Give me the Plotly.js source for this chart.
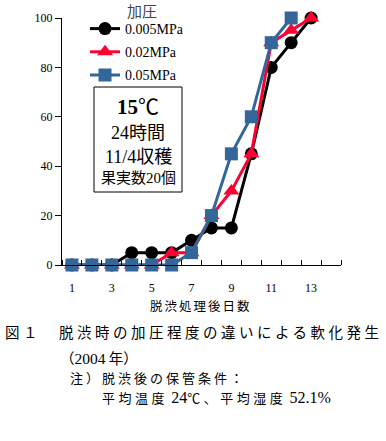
<!DOCTYPE html>
<html>
<head>
<meta charset="utf-8">
<script src="https://cdn.plot.ly/plotly-3.0.1.min.js"></script>
<style>html,body{margin:0;padding:0;background:#fff;}</style>
</head>
<body>
<div id="chart" style="width:386px;height:441px;"></div>
<script>
// ---- data ----
const days = [1,2,3,4,5,6,7,8,9,10,11,12,13];
const seriesNames = ['0.005MPa','0.02MPa','0.05MPa'];
const p005 = [0,0,0,5,5,5,10,15,15,45,80,90,100];
const p002 = [0,0,0,0,0,5,5,20,30,45,90,95,100];
const p005b = [0,0,0,0,0,0,5,20,45,60,90,100];
const daysBlue = [1,2,3,4,5,6,7,8,9,10,11,12];
const xTickVals = [1,3,5,7,9,11,13];
const xTickText = ['1','3','5','7','9','11','13'];
const yTickVals = [0,20,40,60,80,100];

const SERIF = "'Liberation Serif', 'Noto Sans CJK JP', serif";
const CJK = "'Liberation Serif', 'Noto Sans CJK JP', sans-serif";
const JP = "'Noto Sans CJK JP', sans-serif";

// plot area in pixels
const L = 62, R = 341, T = 18, B = 265;
const W = 386, H = 441;
function px(x){ return (x - L) / (R - L); }
function py(y){ return (B - y) / (B - T); }

const traces = [
  {x: days, y: p005, name: seriesNames[0], legendgroup: 'a', mode: 'lines+markers', cliponaxis: false,
   line: {color: '#000000', width: 3}, marker: {symbol: 'circle', size: 13, color: '#000000'}},
  {x: days, y: p002, name: seriesNames[1], legendgroup: 'b', mode: 'lines+markers', cliponaxis: false,
   line: {color: '#FF0033', width: 3}, marker: {symbol: 'triangle-up', size: 14, color: '#FF0033'}},
  {x: daysBlue, y: p005b, name: seriesNames[2], legendgroup: 'c', mode: 'lines+markers', cliponaxis: false,
   line: {color: '#336699', width: 3}, marker: {symbol: 'square', size: 13, color: '#336699'}}
];

function ann(text, xpix, ypix, size, anchor, extra){
  return Object.assign({
    text: text, xref: 'paper', yref: 'paper', x: px(xpix), y: py(ypix),
    xanchor: anchor || 'left', yanchor: 'middle', showarrow: false,
    font: {family: CJK, size: size, color: '#000'}
  }, extra || {});
}
function sp(t, s){ return '<span style="letter-spacing:' + s + 'px">' + t + '</span>'; }
function num(t, s){ return '<span style="font-size:' + s + 'px;font-family:Liberation Serif">' + t + '</span>'; }

const annotations = [
  ann('加圧', 142, 12, 15, 'center', {font:{family: CJK, size: 15, color:'#444'}}),
  ann('<b>15</b>℃', 138, 107, 21, 'center', {font:{family: SERIF, size: 21, color:'#000'}}),
  ann('24時間', 138, 133, 18, 'center'),
  ann('11/4収穫', 138, 157, 18, 'center'),
  ann('果実数20個', 138, 178, 15, 'center'),
  ann(sp('脱渋処理後日数', 2), 201, 306, 12.5, 'center'),
  ann(sp('図１　脱渋時の加圧程度の違いによる軟化発生', 3.5), 3, 333, 14.5, 'left'),
  ann('（' + num('2004', 15.5) + ' 年）', 58, 357, 14.5, 'left', {font:{family: JP, size: 14.5, color:'#000'}}),
  ann(sp('注）脱渋後の保管条件：', 3), 68, 377, 13, 'left', {font:{family: JP, size: 13, color:'#000'}}),
  ann(sp('平均温度', 3.5) + ' ' + num('24', 16) + sp('℃、平均湿度', 3.5) + ' ' + num('52.1%', 16), 100, 397, 13, 'left')
];

const layout = {
  width: W, height: H,
  margin: {l: L, r: W - R, t: T, b: H - B, pad: 0, autoexpand: false},
  paper_bgcolor: '#fff', plot_bgcolor: '#fff',
  font: {family: SERIF, size: 12, color: '#000'},
  showlegend: true,
  legend: {
    x: px(85), y: py(13), xanchor: 'left', yanchor: 'top',
    bgcolor: 'rgba(0,0,0,0)', borderwidth: 0,
    font: {family: SERIF, size: 14, color: '#000'},
    tracegroupgap: 2
  },
  xaxis: {
    range: [0.5, 14.5], showgrid: false, zeroline: false,
    showline: true, linecolor: '#000', linewidth: 1,
    tickmode: 'array', tickvals: xTickVals, ticktext: xTickText,
    ticks: '', ticklabelstandoff: 12,
    tickfont: {family: SERIF, size: 12, color: '#000'},
    minor: {tickmode: 'linear', tick0: 0.5, dtick: 1, ticks: 'inside', ticklen: 5, tickcolor: '#000', tickwidth: 1, showgrid: false},
    fixedrange: true
  },
  yaxis: {
    range: [0, 100], showgrid: false, zeroline: false,
    showline: true, linecolor: '#000', linewidth: 1,
    tickmode: 'array', tickvals: yTickVals,
    ticks: 'outside', ticklen: 6, tickcolor: '#000',
    tickfont: {family: SERIF, size: 12, color: '#000'},
    fixedrange: true
  },
  shapes: [
    {type: 'rect', xref: 'paper', yref: 'paper', x0: px(94), x1: px(182), y0: py(192), y1: py(87),
     line: {color: '#000', width: 1}, fillcolor: 'rgba(0,0,0,0)', layer: 'below'}
  ],
  annotations: annotations
};

Plotly.newPlot('chart', traces, layout, {displayModeBar: false, staticPlot: true});
</script>
</body>
</html>
